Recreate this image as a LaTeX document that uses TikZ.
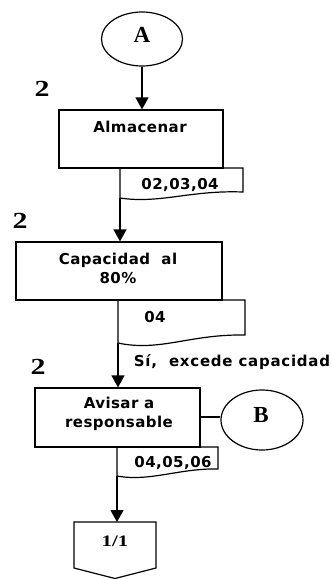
\documentclass[tikz,border=0pt]{standalone}
\usepackage{fontspec}
\setmainfont{DejaVu Sans}
\newfontfamily\boxf[LetterSpace=3]{DejaVu Sans Bold}
\newfontfamily\boldf[LetterSpace=5]{DejaVu Sans Bold}
\newfontfamily\serb{Liberation Serif}
\usetikzlibrary{shapes.geometric,arrows.meta}
\begin{document}
\begin{tikzpicture}[x=1pt,y=-1pt,
  every path/.style={line width=1.2pt},
  boxshape/.style={draw,rectangle,inner sep=0pt},
  conn/.style={draw,ellipse,inner sep=0pt},
  boxtext/.style={font=\boxf\fontsize{15}{19}\selectfont,align=center,inner sep=0pt},
  numtext/.style={font=\serb\bfseries\fontsize{23}{24}\selectfont,inner sep=0pt},
  arr/.style={-{Triangle[length=12pt,width=13pt]}}]
\useasboundingbox (0,0) rectangle (332,579);
% connector A
\node[conn,minimum width=81pt,minimum height=54pt] (A) at (142,39) {};
\node[numtext] (tA) at (142,35) {A};
% box 1
\node[boxshape,minimum width=164pt,minimum height=58pt] (b1) at (141,139) {};
\node[boxtext] (t1) at (140,127) {Almacenar};
\node[numtext] (n1) at (42,89) {\scalebox{1.3}[1]{2}};
% doc 1
\draw (120,168) -- (120,198) .. controls (160,204) and (190,190) .. (243,192) -- (243,168) -- cycle;
\coordinate (d1) at (120,198);
\node[boxtext] (td1) at (180,185) {02,03,04};
% box 2
\node[boxshape,minimum width=206pt,minimum height=58pt] (b2) at (119,271) {};
\node[boxtext] (t2) at (118,268) {Capacidad~ al\\80\%};
\node[numtext] (n2) at (20,221) {\scalebox{1.3}[1]{2}};
% doc 2
\draw (118,300) -- (118,343) .. controls (160,352) and (190,334) .. (245,335) -- (245,300) -- cycle;
\coordinate (d2) at (118,343);
\node[boxtext] (td2) at (155,317) {04};
\node[font=\boldf\fontsize{15}{17}\selectfont,inner sep=0pt] (yes) at (232,362) {Sí,~ excede capacidad};
\node[numtext] (n3) at (38,367) {\scalebox{1.3}[1]{2}};
% box 3
\node[boxshape,minimum width=165pt,minimum height=59pt] (b3) at (117.5,417.5) {};
\node[boxtext] (t3) at (119,414) {Avisar a\\responsable};
\node[conn,minimum width=82pt,minimum height=60pt] (B) at (262,420) {};
\node[numtext] (tB) at (261,415) {B};
% doc 3
\draw (117,447) -- (117,476) .. controls (150,482) and (180,468) .. (218,469) -- (218,447) -- cycle;
\coordinate (d3) at (117,476);
\node[boxtext] (td3) at (173,463) {04,05,06};
% off-page connector
\draw (74,522) -- (156,522) -- (156,568) -- (115,578.5) -- (74,568) -- cycle;
\coordinate (op) at (117,522);
\node[font=\serb\bfseries\fontsize{16}{18}\selectfont,inner sep=0pt] (t11) at (115,541) {\scalebox{1.3}[1]{1/1}};
% connectors
\draw[arr] (A.south) -- (A.south |- b1.north);
\draw[arr] (d1) -- (d1 |- b2.north);
\draw[arr] (d2) -- (d2 |- b3.north);
\draw (b3.east |- 0,417) -- (B.west |- 0,417);
\draw[arr] (d3) -- (op);
\end{tikzpicture}
\end{document}
